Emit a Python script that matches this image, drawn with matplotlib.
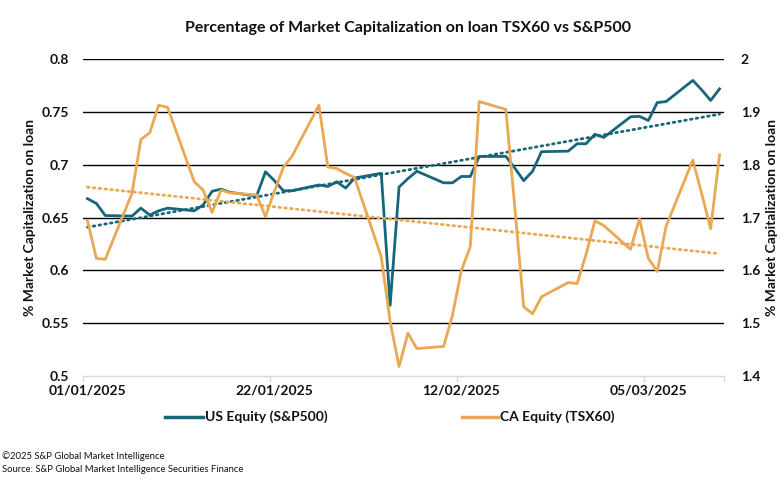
import numpy as np
import pandas as pd
import matplotlib
matplotlib.use("Agg")
import matplotlib.pyplot as plt
import matplotlib.dates as mdates

# ---- data (business days, Jan-Mar 2025) ----
dates = pd.to_datetime([
    "2025-01-01", "2025-01-02", "2025-01-03",
    "2025-01-06", "2025-01-07", "2025-01-08", "2025-01-09", "2025-01-10",
    "2025-01-13", "2025-01-14", "2025-01-15", "2025-01-16", "2025-01-17",
    "2025-01-20", "2025-01-21", "2025-01-22", "2025-01-23", "2025-01-24",
    "2025-01-27", "2025-01-28", "2025-01-29", "2025-01-30", "2025-01-31",
    "2025-02-03", "2025-02-04", "2025-02-05", "2025-02-06", "2025-02-07",
    "2025-02-10", "2025-02-11", "2025-02-12", "2025-02-13", "2025-02-14",
    "2025-02-17", "2025-02-18", "2025-02-19", "2025-02-20", "2025-02-21",
    "2025-02-24", "2025-02-25", "2025-02-26", "2025-02-27", "2025-02-28",
    "2025-03-03", "2025-03-04", "2025-03-05", "2025-03-06", "2025-03-07",
    "2025-03-10", "2025-03-11", "2025-03-12", "2025-03-13",
])

us_equity = [
    0.668, 0.6635, 0.652,
    0.6515, 0.659, 0.6525, 0.6565, 0.659,
    0.6565, 0.662, 0.675, 0.677, 0.674,
    0.6705, 0.6935, 0.685, 0.6755, 0.6755,
    0.681, 0.6795, 0.684, 0.678, 0.6875,
    0.692, 0.567, 0.679, 0.687, 0.694,
    0.683, 0.683, 0.689, 0.689, 0.708,
    0.708, 0.697, 0.685, 0.694, 0.7125,
    0.713, 0.720, 0.720, 0.729, 0.726,
    0.7455, 0.746, 0.742, 0.759, 0.760,
    0.780, 0.771, 0.761, 0.772,
]

ca_equity = [
    1.695, 1.623, 1.621,
    1.746, 1.848, 1.861, 1.913, 1.909,
    1.768, 1.752, 1.710, 1.752, 1.747,
    1.743, 1.702, 1.750, 1.795, 1.817,
    1.913, 1.796, 1.793, 1.784, 1.776,
    1.626, 1.503, 1.418, 1.481, 1.452,
    1.456, 1.515, 1.600, 1.645, 1.920,
    1.905, 1.720, 1.531, 1.518, 1.550,
    1.577, 1.575, 1.630, 1.694, 1.685,
    1.640, 1.698, 1.623, 1.598, 1.684,
    1.809, 1.745, 1.679, 1.819,
]

tick_dates = pd.to_datetime(["2025-01-01", "2025-01-22", "2025-02-12", "2025-03-05"])
tick_labels = ["01/01/2025", "22/01/2025", "12/02/2025", "05/03/2025"]
left_ticks = [0.5, 0.55, 0.6, 0.65, 0.7, 0.75, 0.8]
right_ticks = [1.4, 1.5, 1.6, 1.7, 1.8, 1.9, 2.0]

title = "Percentage of Market Capitalization on loan TSX60 vs S&P500"
ylabel = "% Market Capitalization on loan"
series_names = ["US Equity (S&P500)", "CA Equity (TSX60)"]
footer = ["\u00a92025 S&P Global Market Intelligence",
          "Source: S&P Global Market Intelligence Securities Finance"]

BLUE = "#176679"
ORANGE = "#EAA852"
TXT = "#111111"

plt.rcParams["font.family"] = ["Lato", "DejaVu Sans"]

W, H = 784, 487
fig = plt.figure(figsize=(W / 100, H / 100), dpi=100)
ax = fig.add_axes([83 / W, 1 - 376 / H, (724 - 83) / W, (376 - 59.3) / H])
ax2 = ax.twinx()

# date axis: data points centred in day cells (Excel "between tick marks")
x = mdates.date2num(dates) + 0.5
x0 = mdates.date2num(pd.Timestamp("2025-01-01"))
x1 = mdates.date2num(pd.Timestamp("2025-03-14"))
ax.set_xlim(x0, x1)

# gridlines
for v in left_ticks[1:]:
    ax.axhline(v, color="black", lw=1.0, zorder=1)
ax.set_ylim(0.5, 0.8)
ax2.set_ylim(1.4, 2.0)

# trend lines
us = np.array(us_equity)
ca = np.array(ca_equity)
pu = np.polyfit(x, us, 1)
pc = np.polyfit(x, ca, 1)
xt = np.array([x[0], x[-1]])

ax.plot(x, us, color=BLUE, lw=2.0, zorder=4, solid_joinstyle="round")
ax.plot(xt, np.polyval(pu, xt), color=BLUE, lw=2.0, ls=(0, (0.6, 1.5)),
        dash_capstyle="round", zorder=3)
ax2.plot(x, ca, color=ORANGE, lw=2.0, zorder=4, solid_joinstyle="round")
ax2.plot(xt, np.polyval(pc, xt), color=ORANGE, lw=2.0, ls=(0, (0.6, 1.5)),
         dash_capstyle="round", zorder=3)

# axes styling
for a in (ax, ax2):
    for s in a.spines.values():
        s.set_visible(False)
ax.spines["bottom"].set_visible(True)
ax.spines["bottom"].set_color("#d9d9d9")
ax.spines["bottom"].set_linewidth(1.0)

ax.set_yticks(left_ticks)
ax.set_yticklabels(["0.5", "0.55", "0.6", "0.65", "0.7", "0.75", "0.8"],
                   fontsize=10, fontweight="bold", color=TXT)
ax2.set_yticks(right_ticks)
ax2.set_yticklabels(["1.4", "1.5", "1.6", "1.7", "1.8", "1.9", "2"],
                    fontsize=10, fontweight="bold", color=TXT)
ax.tick_params(axis="y", length=0, pad=10)
ax2.tick_params(axis="y", length=0, pad=12)

tpos = mdates.date2num(tick_dates)
ax.set_xticks(list(tpos) + [x1])
ax.set_xticklabels([""] * (len(tpos) + 1))
ax.tick_params(axis="x", length=4, color="#d9d9d9", width=1)
ax.set_xticks(tpos + 0.5, minor=True)
ax.set_xticklabels(tick_labels, minor=True, fontsize=10, fontweight="bold", color=TXT)
ax.tick_params(axis="x", which="minor", length=0, pad=6)

ax.set_ylabel(ylabel, fontsize=10, fontweight="bold", color=TXT, labelpad=4)
ax2.set_ylabel(ylabel, fontsize=10, fontweight="bold", color=TXT, labelpad=4,
               rotation=90)

# title
fig.text(408 / W, 1 - 28 / H, title, ha="center", va="center",
         fontsize=11.5, fontweight="bold", color=TXT)

# legend (manual, figure coords)
ly = 1 - 417 / H
fig.add_artist(plt.Line2D([165 / W, 203 / W], [ly, ly], color=BLUE, lw=2.5))
fig.text(205 / W, ly, series_names[0], ha="left", va="center",
         fontsize=10, fontweight="bold", color=TXT)
fig.add_artist(plt.Line2D([462 / W, 498 / W], [ly, ly], color=ORANGE, lw=2.5))
fig.text(500 / W, ly, series_names[1], ha="left", va="center",
         fontsize=10, fontweight="bold", color=TXT)

# footer
fig.text(2 / W, 1 - 456 / H, footer[0], ha="left", va="center", fontsize=6.8, color=TXT)
fig.text(2 / W, 1 - 469 / H, footer[1], ha="left", va="center", fontsize=6.8, color=TXT)

fig.savefig("out.png", dpi=100, facecolor="white")
